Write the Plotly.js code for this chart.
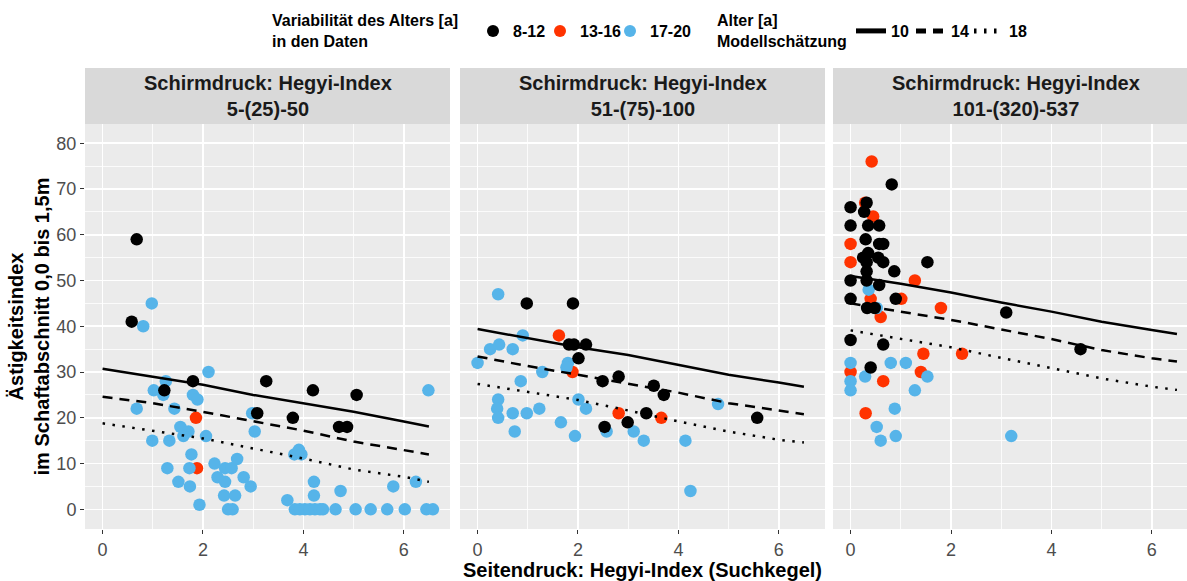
<!DOCTYPE html>
<html><head><meta charset="utf-8">
<script src="https://cdn.plot.ly/plotly-3.0.1.min.js"></script>
<style>html,body{margin:0;padding:0;background:#fff}#chart{width:1187px;height:581px}</style>
</head><body><div id="chart"></div>
<script>
// ---------- data ----------
const panelTitles = ["Schirmdruck: Hegyi-Index<br>5-(25)-50", "Schirmdruck: Hegyi-Index<br>51-(75)-100", "Schirmdruck: Hegyi-Index<br>101-(320)-537"];
const groupNames = ["8-12", "13-16", "17-20"];
const ageNames = ["10", "14", "18"];
const pointLegendTitle = "Variabilität des Alters [a]<br>in den Daten";
const lineLegendTitle = "Alter [a]<br>Modellschätzung";
const xTickVals = [0, 2, 4, 6];
const yTickVals = [0, 10, 20, 30, 40, 50, 60, 70, 80];

// Panel 1 (5-(25)-50)
const p1_a_x = [0.68, 0.58, 1.23, 1.80, 3.26, 3.08, 3.79, 4.19, 5.06, 4.71, 4.87];
const p1_a_y = [59, 41, 26, 28, 28, 21, 20, 26, 25, 18, 18];
const p1_b_x = [1.86, 1.88];
const p1_b_y = [20, 9];
const p1_c_x = [0.98, 0.81, 2.11, 1.26, 1.02, 1.21, 0.68, 1.43, 1.80, 1.89, 2.98, 3.03, 1.55, 1.71, 1.61, 0.99, 1.33, 2.06, 1.77, 1.29, 1.73, 1.51, 1.74, 1.93, 2.23, 2.44, 2.57, 2.68, 2.29, 2.44, 2.81, 2.95, 2.42, 2.64, 2.50, 2.59, 3.68, 3.82, 3.91, 3.96, 4.21, 4.21, 4.74, 5.79, 6.24, 6.49, 3.83, 3.93, 4.03, 4.13, 4.23, 4.33, 4.39, 4.64, 5.04, 5.34, 5.67, 6.02, 6.45, 6.58];
const p1_c_y = [45, 40, 30, 28, 26, 25, 22, 22, 25, 24, 21, 17, 18, 17, 16, 15, 15, 16, 12, 9, 9, 6, 5, 1, 10, 9, 9, 11, 7, 6, 7, 5, 3, 3, 0, 0, 2, 12, 13, 12, 6, 3, 4, 5, 6, 26, 0, 0, 0, 0, 0, 0, 0, 0, 0, 0, 0, 0, 0, 0];

// Panel 2 (51-(75)-100)
const p2_a_x = [0.98, 1.90, 1.82, 1.92, 2.16, 2.01, 2.49, 2.81, 3.51, 3.71, 3.36, 2.99, 2.53, 5.57];
const p2_a_y = [45, 45, 36, 36, 36, 33, 28, 29, 27, 25, 21, 19, 18, 20];
const p2_b_x = [1.62, 1.89, 2.81, 3.66];
const p2_b_y = [38, 30, 21, 20];
const p2_c_x = [0.41, 0.90, 0.25, 0.43, 0.70, 0.00, 1.80, 1.77, 1.29, 0.86, 0.41, 0.39, 0.41, 0.70, 0.98, 1.23, 0.74, 1.66, 1.94, 2.01, 2.16, 2.57, 3.11, 3.31, 4.14, 4.79, 4.24];
const p2_c_y = [47, 38, 35, 36, 35, 32, 32, 31, 30, 28, 24, 22, 20, 21, 21, 22, 17, 19, 16, 24, 22, 17, 17, 15, 15, 23, 4];

// Panel 3 (101-(320)-537)
const p3_a_x = [0.82, 0.32, 0.00, 0.27, 0.00, 0.35, 0.57, 0.30, 0.57, 0.65, 0.35, 0.25, 0.55, 0.32, 0.65, 1.53, 0.32, 0.87, 0.00, 0.32, 0.57, 0.00, 0.90, 0.33, 0.48, 3.10, 0.00, 0.65, 4.58, 0.40];
const p3_a_y = [71, 67, 66, 65, 62, 62, 62, 59, 58, 58, 56, 55, 55, 54, 54, 54, 52, 52, 50, 50, 49, 46, 46, 44, 44, 43, 37, 36, 35, 31];
const p3_b_x = [0.42, 0.29, 0.45, 0.00, 0.00, 1.28, 1.01, 0.40, 1.80, 0.60, 1.45, 2.22, 0.00, 1.40, 0.65, 0.30];
const p3_b_y = [76, 67, 64, 58, 54, 50, 46, 46, 44, 42, 34, 34, 30, 30, 28, 21];
const p3_c_x = [0.36, 0.52, 0.00, 0.80, 1.10, 0.29, 1.53, 0.00, 0.00, 1.28, 0.88, 0.52, 0.60, 0.90, 3.20];
const p3_c_y = [48, 44, 32, 32, 32, 29, 29, 28, 26, 26, 22, 18, 15, 16, 16];

// Model estimates (age 10 / 14 / 18)
const lineX = [0, 1, 2, 3, 4, 5, 6, 6.5];
const p1_age10 = [30.7, 29.0, 27.2, 25.0, 23.2, 21.3, 19.2, 18.1];
const p1_age14 = [24.6, 23.2, 21.3, 19.2, 17.2, 14.8, 13.0, 12.0];
const p1_age18 = [18.8, 17.2, 15.5, 13.3, 11.1, 8.7, 7.1, 6.0];
const p2_age10 = [39.4, 37.4, 35.4, 33.7, 31.5, 29.4, 27.7, 26.8];
const p2_age14 = [33.4, 31.3, 29.4, 27.5, 25.5, 23.2, 21.5, 20.8];
const p2_age18 = [27.4, 25.6, 23.9, 21.6, 19.2, 17.0, 15.2, 14.6];
const p3_age10 = [51.0, 49.3, 47.4, 45.2, 43.2, 41.0, 39.2, 38.3];
const p3_age14 = [45.0, 43.2, 41.4, 39.3, 37.2, 34.8, 33.0, 32.3];
const p3_age18 = [39.1, 37.3, 35.4, 33.1, 30.8, 28.6, 26.8, 26.1];

// ---------- styling ----------
const FONT = "Liberation Sans, Arial, Helvetica, sans-serif";
const groupColors = ["#000000", "#FF3300", "#56B4E9"];
const ageDash = ["solid", "10px,7px", "2.5px,7.5px"];

const W = 1187, H = 581, L = 85, R = 0, T = 124, B = 52;
const plotW = W - L - R, plotH = H - T - B;
const px = p => (p - L) / plotW;
const py = p => 1 + (T - p) / plotH;
const domains = [[px(85), px(450)], [px(460), px(825)], [px(833), 1]];
const xRanges = [[-0.35, 6.92], [-0.35, 6.92], [-0.35, 6.70]];
const yRange = [-4.3, 84.2];
// legend entry positions (left edge of each single-entry legend, px)
const groupLegendLeft = [473, 540, 610];
const ageLegendLeft = [851, 911, 969];

const pts = [
  [[p1_a_x, p1_a_y], [p1_b_x, p1_b_y], [p1_c_x, p1_c_y]],
  [[p2_a_x, p2_a_y], [p2_b_x, p2_b_y], [p2_c_x, p2_c_y]],
  [[p3_a_x, p3_a_y], [p3_b_x, p3_b_y], [p3_c_x, p3_c_y]]
];
const lines = [[p1_age10, p1_age14, p1_age18], [p2_age10, p2_age14, p2_age18], [p3_age10, p3_age14, p3_age18]];

const legendId = i => i === 0 ? 'legend' : 'legend' + (i + 1);
const traces = [];
const drawOrder = [1, 2, 0];
for (let p = 0; p < 3; p++) {
  const xa = p === 0 ? 'x' : 'x' + (p + 1);
  const ya = p === 0 ? 'y' : 'y' + (p + 1);
  for (const g of drawOrder) {
    traces.push({
      type: 'scatter', mode: 'markers', xaxis: xa, yaxis: ya,
      x: pts[p][g][0], y: pts[p][g][1],
      name: groupNames[g], legend: legendId(g), legendgroup: 'g' + g,
      showlegend: p === 0,
      marker: { color: groupColors[g], size: 12.5, line: { width: 0 } },
      hoverinfo: 'skip'
    });
  }
  for (let a = 0; a < 3; a++) {
    traces.push({
      type: 'scatter', mode: 'lines', xaxis: xa, yaxis: ya,
      x: lineX, y: lines[p][a],
      name: ageNames[a], legend: legendId(3 + a), legendgroup: 'a' + a,
      showlegend: p === 0,
      line: { color: '#000000', width: 2.5, dash: ageDash[a] },
      hoverinfo: 'skip'
    });
  }
}

function xAxis(p) {
  return {
    domain: domains[p], range: xRanges[p], anchor: p === 0 ? 'y' : 'y' + (p + 1),
    tickmode: 'array', tickvals: xTickVals, ticktext: xTickVals.map(String),
    ticks: 'outside', ticklen: 4, tickwidth: 1, tickcolor: '#333333',
    tickfont: { family: FONT, size: 18, color: '#4D4D4D' },
    showgrid: true, gridcolor: '#FFFFFF', gridwidth: 1.6,
    minor: { dtick: 1, tick0: 0, showgrid: true, gridcolor: '#FFFFFF', gridwidth: 0.8, ticks: '' },
    zeroline: false, showline: false, fixedrange: true
  };
}
function yAxis(p) {
  return {
    domain: [0, 1], range: yRange, anchor: p === 0 ? 'x' : 'x' + (p + 1),
    tickmode: 'array', tickvals: yTickVals, ticktext: yTickVals.map(String),
    showticklabels: p === 0, ticks: p === 0 ? 'outside' : '', ticklen: 4, tickwidth: 1, tickcolor: '#333333',
    tickfont: { family: FONT, size: 18, color: '#4D4D4D' },
    showgrid: true, gridcolor: '#FFFFFF', gridwidth: 1.6,
    minor: { dtick: 5, tick0: 0, showgrid: true, gridcolor: '#FFFFFF', gridwidth: 0.8, ticks: '' },
    zeroline: false, showline: false, fixedrange: true
  };
}

const legendFont = { family: FONT, size: 16, weight: 'bold', color: '#000' };
const layout = {
  width: W, height: H,
  margin: { l: L, r: R, t: T, b: B, pad: 0 },
  paper_bgcolor: '#FFFFFF', plot_bgcolor: '#EBEBEB',
  font: { family: FONT, color: '#000000' },
  xaxis: xAxis(0), xaxis2: xAxis(1), xaxis3: xAxis(2),
  yaxis: yAxis(0), yaxis2: yAxis(1), yaxis3: yAxis(2),
  shapes: [],
  annotations: [
    { xref: 'paper', yref: 'paper', x: px(270), y: py(31), xanchor: 'left', yanchor: 'middle', align: 'left', showarrow: false,
      text: '<b>' + pointLegendTitle + '</b>', font: legendFont },
    { xref: 'paper', yref: 'paper', x: px(715), y: py(31), xanchor: 'left', yanchor: 'middle', align: 'left', showarrow: false,
      text: '<b>' + lineLegendTitle + '</b>', font: legendFont }
  ]
};
const legendLefts = groupLegendLeft.concat(ageLegendLeft);
legendLefts.forEach((left, i) => {
  layout[legendId(i)] = {
    orientation: 'h', x: px(left), xanchor: 'left', y: py(31), yanchor: 'middle',
    font: legendFont, bgcolor: 'rgba(0,0,0,0)', itemsizing: 'constant'
  };
});
layout.xaxis2.title = { text: 'Seitendruck: Hegyi-Index (Suchkegel)', font: { family: FONT, size: 20, weight: 'bold', color: '#000' }, standoff: 3 };
layout.yaxis.title = { text: 'Ästigkeitsindex<br>im Schaftabschnitt 0,0 bis 1,5m', font: { family: FONT, size: 20, weight: 'bold', color: '#000' }, standoff: 1 };

const stripTop = py(68);
for (let p = 0; p < 3; p++) {
  const xa = p === 0 ? 'x' : 'x' + (p + 1);
  layout.shapes.push({ type: 'rect', xref: xa + ' domain', yref: 'paper', x0: 0, x1: 1, y0: 1, y1: stripTop, fillcolor: '#D9D9D9', line: { width: 0 }, layer: 'below' });
  layout.annotations.push({
    xref: xa, yref: 'paper', x: (xRanges[0][0] + xRanges[0][1]) / 2, y: py(96),
    xanchor: 'center', yanchor: 'middle', showarrow: false, text: '<b>' + panelTitles[p] + '</b>',
    font: { family: FONT, size: 20, color: '#1A1A1A' }
  });
}

Plotly.newPlot('chart', traces, layout, { displayModeBar: false, staticPlot: true });
</script>
</body></html>
